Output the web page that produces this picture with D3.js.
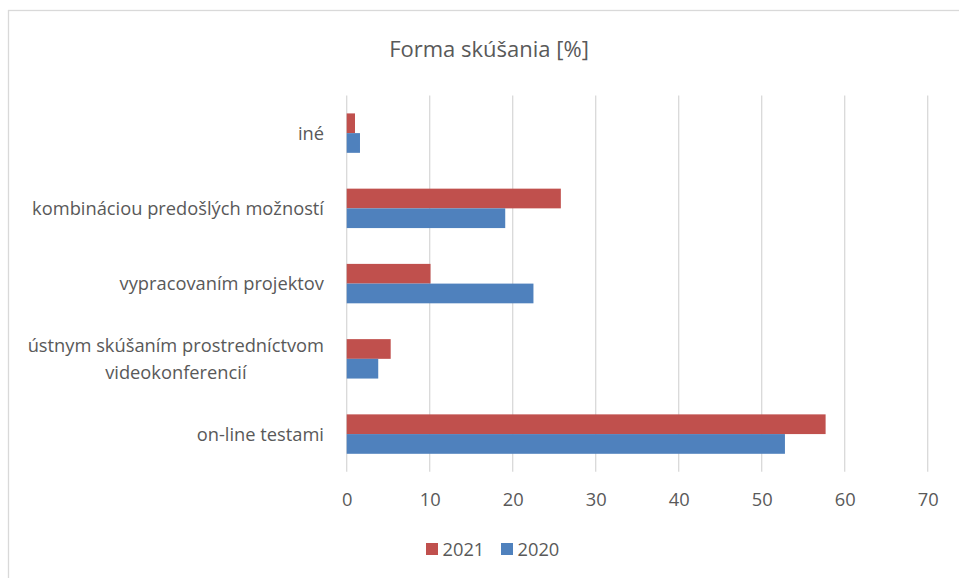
<!DOCTYPE html>
<html>
<head>
<meta charset="utf-8">
<script src="https://cdn.jsdelivr.net/npm/d3@7"></script>
<style>
  body { margin: 0; background: #fff; }
  svg { display: block; font-family: "Open Sans", sans-serif; }
  .tick-label, .cat-label, .legend-label { fill: #595959; font-size: 18.3px; }
  .title { fill: #595959; font-size: 22px; }
</style>
</head>
<body>
<div id="chart"></div>
<script>
// categories from top to bottom, as drawn
const categories = [
  'iné ',
  'kombináciou predošlých možností',
  'vypracovaním projektov',
  'ústnym skúšaním prostredníctvom videokonferencií',
  'on-line testami'
];
const seriesNames = ['2021', '2020'];
const values2021 = [1.0, 25.8, 10.1, 5.3, 57.7];
const values2020 = [1.6, 19.1, 22.5, 3.8, 52.8];
const xTicks = [0, 10, 20, 30, 40, 50, 60, 70];
const colors = { '2021': '#c0504d', '2020': '#4f81bd' };

const svgWidth = 959, svgHeight = 578;
const plot = { left: 346.7, right: 927.7, top: 95.5, bottom: 471.7 };

const svg = d3.select('#chart').append('svg')
  .attr('width', svgWidth)
  .attr('height', svgHeight);

// chart area border (runs off the right and bottom edges)
svg.append('rect')
  .attr('x', 8.5).attr('y', 10.5)
  .attr('width', 1000).attr('height', 1000)
  .attr('fill', 'none')
  .attr('stroke', '#d9d9d9')
  .attr('stroke-width', 1.3);

svg.append('text')
  .attr('class', 'title')
  .attr('x', 489).attr('y', 57)
  .attr('text-anchor', 'middle')
  .text('Forma skúšania [%]');

const x = d3.scaleLinear().domain([0, 70]).range([plot.left, plot.right]);
const y = d3.scaleBand().domain(categories)
  .range([plot.top, plot.bottom])
  .paddingInner(0.476)
  .paddingOuter(0.238);
const ySub = d3.scaleBand().domain(seriesNames).range([0, y.bandwidth()]);

// gridlines
svg.append('g')
  .selectAll('line')
  .data(xTicks)
  .join('line')
  .attr('x1', d => x(d)).attr('x2', d => x(d))
  .attr('y1', plot.top).attr('y2', plot.bottom)
  .attr('stroke', '#d9d9d9')
  .attr('stroke-width', 1.3);

// x axis labels
const xAxis = d3.axisBottom(x).tickValues(xTicks).tickSize(0).tickPadding(0);
const gx = svg.append('g')
  .attr('transform', 'translate(0,' + plot.bottom + ')')
  .call(xAxis)
  .attr('font-family', null)
  .attr('font-size', null);
gx.select('.domain').remove();
gx.selectAll('text')
  .attr('class', 'tick-label')
  .attr('dy', null)
  .attr('y', 34)
  .attr('fill', null);

// bars
const rows = categories.map((c, i) => ({ cat: c, '2021': values2021[i], '2020': values2020[i] }));
const groups = svg.append('g')
  .selectAll('g')
  .data(rows)
  .join('g')
  .attr('transform', d => 'translate(0,' + y(d.cat) + ')');

groups.selectAll('rect')
  .data(d => seriesNames.map(s => ({ key: s, value: d[s] })))
  .join('rect')
  .attr('x', x(0))
  .attr('y', d => ySub(d.key))
  .attr('width', d => x(d.value) - x(0))
  .attr('height', ySub.bandwidth())
  .attr('fill', d => colors[d.key]);

// category labels, wrapped and centred as a right-aligned block
const labelRight = 324, maxLabelWidth = 320, lineHeight = 27;
const labels = svg.append('g');
categories.forEach(cat => {
  const t = labels.append('text').attr('class', 'cat-label').attr('text-anchor', 'middle');
  const words = cat.trim().split(' ');
  let lines = [], line = [];
  const probe = t.append('tspan');
  words.forEach(w => {
    const test = line.concat(w).join(' ');
    probe.text(test);
    if (probe.node().getComputedTextLength() > maxLabelWidth && line.length) {
      lines.push(line.join(' '));
      line = [w];
    } else {
      line.push(w);
    }
  });
  lines.push(line.join(' '));
  let blockWidth = 0;
  lines.forEach(l => {
    probe.text(l);
    blockWidth = Math.max(blockWidth, probe.node().getComputedTextLength());
  });
  probe.remove();
  const cy = y(cat) + y.bandwidth() / 2;
  const cx = labelRight - blockWidth / 2;
  lines.forEach((l, i) => {
    t.append('tspan')
      .attr('x', cx)
      .attr('y', cy - (lines.length - 1) * lineHeight / 2 + i * lineHeight + 6.5)
      .text(l);
  });
});

// legend
const legend = svg.append('g').attr('transform', 'translate(426,543)');
const legendItems = legend.selectAll('g')
  .data(seriesNames)
  .join('g')
  .attr('transform', (d, i) => 'translate(' + i * 75 + ',0)');
legendItems.append('rect')
  .attr('width', 12).attr('height', 12)
  .attr('fill', d => colors[d]);
legendItems.append('text')
  .attr('class', 'legend-label')
  .attr('x', 16.5).attr('y', 13)
  .text(d => d);
</script>
</body>
</html>
